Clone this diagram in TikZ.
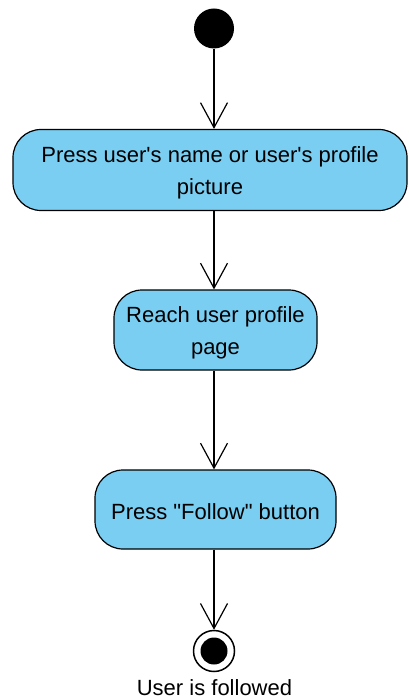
\documentclass[tikz,border=0pt]{standalone}
\usepackage{fontspec}
\setmainfont{Liberation Sans}[Ligatures=TeXOff]
\usetikzlibrary{arrows.meta}
\definecolor{actfill}{RGB}{122,206,242}
\begin{document}
\begin{tikzpicture}[x=1pt,y=-1pt,
  lbl/.style={font=\fontsize{22}{31.5}\selectfont, align=center, inner sep=0pt},
  flow/.style={draw=black, line width=1.2pt,
    -{Straight Barb[length=25pt,width=27pt,line width=1.2pt]}},
  act/.style={draw=black, line width=1.2pt, fill=actfill,
    rounded corners=28pt, inner sep=0pt}
]
\useasboundingbox (0,0) rectangle (408,700);

% initial and final states
\node[circle, fill=black, minimum size=40pt, inner sep=0pt] (start) at (214,28.5) {};
\node[circle, draw=black, line width=1.5pt, fill=white, minimum size=41pt, inner sep=0pt] (end) at (214,651) {};
\fill[black] (end.center) circle (13.5pt);
\node[lbl] (endlbl) at (214.5,688) {User is followed};

% actions
\node[act, minimum width=394pt, minimum height=81pt] (b1) at (210,170) {};
\node[act, minimum width=203pt, minimum height=80pt] (b2) at (215.5,330) {};
\node[act, minimum width=241pt, minimum height=79pt] (b3) at (215.5,509.5) {};
\node[lbl] (t1) at ([yshift=-3pt]b1.center) {Press user's name or user's profile\\picture};
\node[lbl] (t2) at ([yshift=-3pt]b2.center) {Reach user profile\\page};
\node[lbl] (t3) at ([yshift=-2pt]b3.center) {Press "Follow" button};

% control flows
\draw[flow] (start) -- (start |- b1.north);
\draw[flow] (b1.south -| start) -- (start |- b2.north);
\draw[flow] (b2.south -| start) -- (start |- b3.north);
\draw[flow] (b3.south -| start) -- (end.north);
\end{tikzpicture}
\end{document}
